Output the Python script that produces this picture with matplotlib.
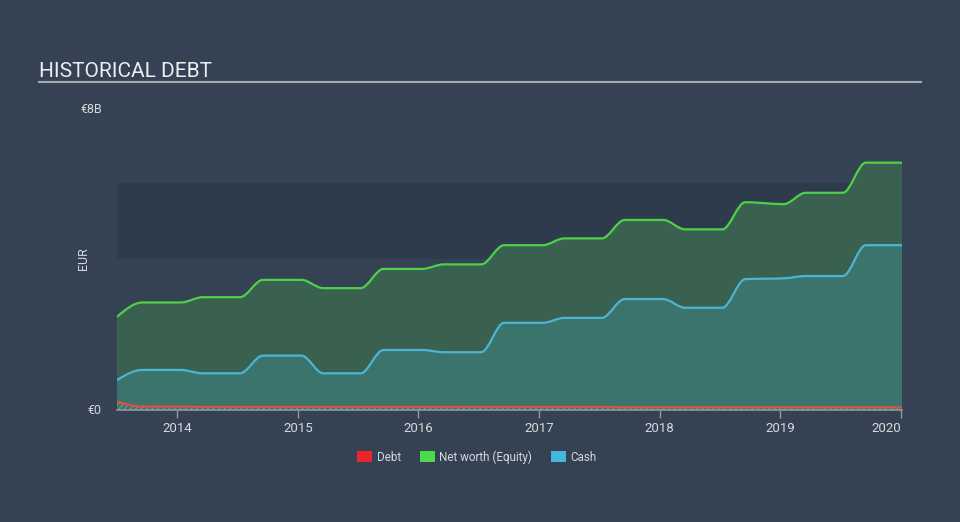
import matplotlib
matplotlib.use('Agg')
import matplotlib.pyplot as plt
import numpy as np
from matplotlib.path import Path
from matplotlib.patches import PathPatch, Patch
from matplotlib.lines import Line2D

plt.rcParams['font.family'] = ['Roboto', 'DejaVu Sans']

# Report dates (decimal years), each value held over a short plateau
dates = [2013.50,
         2013.71, 2014.03, 2014.21, 2014.52, 2014.71, 2015.03, 2015.21, 2015.52,
         2015.71, 2016.03, 2016.21, 2016.52, 2016.71, 2017.03, 2017.21, 2017.52,
         2017.71, 2018.03, 2018.21, 2018.52, 2018.71, 2019.03, 2019.21, 2019.52,
         2019.71, 2020.01]

# Values in billions of EUR
equity = [2.46,
          2.84, 2.84, 2.98, 2.98, 3.44, 3.44, 3.22, 3.22,
          3.73, 3.73, 3.85, 3.85, 4.36, 4.36, 4.54, 4.54,
          5.03, 5.03, 4.78, 4.78, 5.50, 5.45, 5.75, 5.75,
          6.55, 6.55]
cash = [0.78,
        1.05, 1.05, 0.96, 0.96, 1.43, 1.43, 0.96, 0.96,
        1.58, 1.58, 1.52, 1.52, 2.30, 2.30, 2.43, 2.43,
        2.93, 2.93, 2.70, 2.70, 3.46, 3.48, 3.54, 3.54,
        4.36, 4.36]
debt = [0.21,
        0.08, 0.08, 0.07, 0.07, 0.07, 0.07, 0.07, 0.07,
        0.07, 0.07, 0.07, 0.07, 0.07, 0.07, 0.07, 0.07,
        0.06, 0.06, 0.06, 0.06, 0.06, 0.06, 0.06, 0.06,
        0.06, 0.06]

year_ticks = [2014, 2015, 2016, 2017, 2018, 2019, 2020]

BG = '#344253'
BAND = '#2e3b4c'
TXT = '#d6d9dd'
AXIS = '#8f9aa6'


def monotone_verts(x, y):
    # cubic bezier control points of a monotone-x curve through the points
    x = np.asarray(x, float)
    y = np.asarray(y, float)
    n = len(x)
    h = np.diff(x)
    s = np.diff(y) / h
    t = np.zeros(n)
    for i in range(1, n - 1):
        p = (s[i - 1] * h[i] + s[i] * h[i - 1]) / (h[i - 1] + h[i])
        t[i] = (np.sign(s[i - 1]) + np.sign(s[i])) * min(abs(s[i - 1]), abs(s[i]), 0.5 * abs(p))
    t[0] = (3 * s[0] - t[1]) / 2
    t[-1] = (3 * s[-1] - t[-2]) / 2
    verts = [(x[0], y[0])]
    codes = [Path.MOVETO]
    for i in range(n - 1):
        dx = h[i] / 3
        verts += [(x[i] + dx, y[i] + dx * t[i]), (x[i + 1] - dx, y[i + 1] - dx * t[i + 1]), (x[i + 1], y[i + 1])]
        codes += [Path.CURVE4] * 3
    return verts, codes


def draw_series(ax, x, y, line_color, fill_color=None, hatch=None, z=2):
    verts, codes = monotone_verts(x, y)
    if fill_color is not None or hatch is not None:
        fv = verts + [(x[-1], 0), (x[0], 0), (x[0], y[0])]
        fc = codes + [Path.LINETO, Path.LINETO, Path.CLOSEPOLY]
        if hatch:
            ax.add_patch(PathPatch(Path(fv, fc), facecolor='none', edgecolor='#7d8a95',
                                   hatch=hatch, lw=0, zorder=z))
        else:
            ax.add_patch(PathPatch(Path(fv, fc), facecolor=fill_color, edgecolor='none', zorder=z))
    ax.add_patch(PathPatch(Path(verts, codes), facecolor='none', edgecolor=line_color,
                           lw=1.6, zorder=z + 0.5, capstyle='round'))


fig = plt.figure(figsize=(9.6, 5.22), dpi=100)
fig.patch.set_facecolor(BG)

ax = fig.add_axes([117 / 960, 1 - 409.5 / 522, (902 - 117) / 960, (409.5 - 108) / 522])
ax.set_facecolor(BG)
ax.set_xlim(dates[0], dates[-1])
ax.set_ylim(0, 8)

ax.axhspan(4, 6, color=BAND, lw=0, zorder=0)

draw_series(ax, dates, equity, '#4fd04a', fill_color='#3a614f', z=2)
draw_series(ax, dates, cash, '#4bb5d5', fill_color='#3b746d', z=3)
draw_series(ax, dates, debt, '#d9533f', hatch='//////', z=4)

for sp in ['top', 'right', 'left']:
    ax.spines[sp].set_visible(False)
ax.spines['bottom'].set_color(AXIS)
ax.spines['bottom'].set_linewidth(1.2)
ax.spines['bottom'].set_zorder(6)

ax.set_xticks(year_ticks)
ax.set_xticklabels([str(y) for y in year_ticks])
ax.tick_params(axis='x', colors=AXIS, length=6, width=1, pad=3, labelsize=9.5, labelcolor=TXT)
ax.get_xticklabels()[-1].set_horizontalalignment('right')

ax.set_yticks([0, 8])
ax.set_yticklabels(['€0', '€8B'])
ax.tick_params(axis='y', length=0, pad=11, labelsize=9, labelcolor=TXT)
ax.set_ylabel('EUR', color=TXT, fontsize=9)
ax.yaxis.set_label_coords(-0.0344, 0.5)

# Title and underline
fig.text(39 / 960, 1 - 77 / 522, 'HISTORICAL DEBT', color='#eceef0', fontsize=15, va='baseline', ha='left')
fig.add_artist(Line2D([39 / 960, 921 / 960], [1 - 82 / 522, 1 - 82 / 522], color='#a7abb1', lw=1.5))

handles = [Patch(facecolor='#e8262c', edgecolor='none', label='Debt'),
           Patch(facecolor='#4dd94c', edgecolor='none', label='Net worth (Equity)'),
           Patch(facecolor='#45b6de', edgecolor='none', label='Cash')]
leg = fig.legend(handles=handles, loc='center', bbox_to_anchor=(477 / 960, 1 - 457 / 522), ncol=3,
                 frameon=False, fontsize=8.4, handlelength=1.3, handleheight=1.05,
                 handletextpad=0.4, columnspacing=1.6)
for t in leg.get_texts():
    t.set_color(TXT)

plt.savefig('out.png', facecolor=BG, dpi=100)
plt.close()
